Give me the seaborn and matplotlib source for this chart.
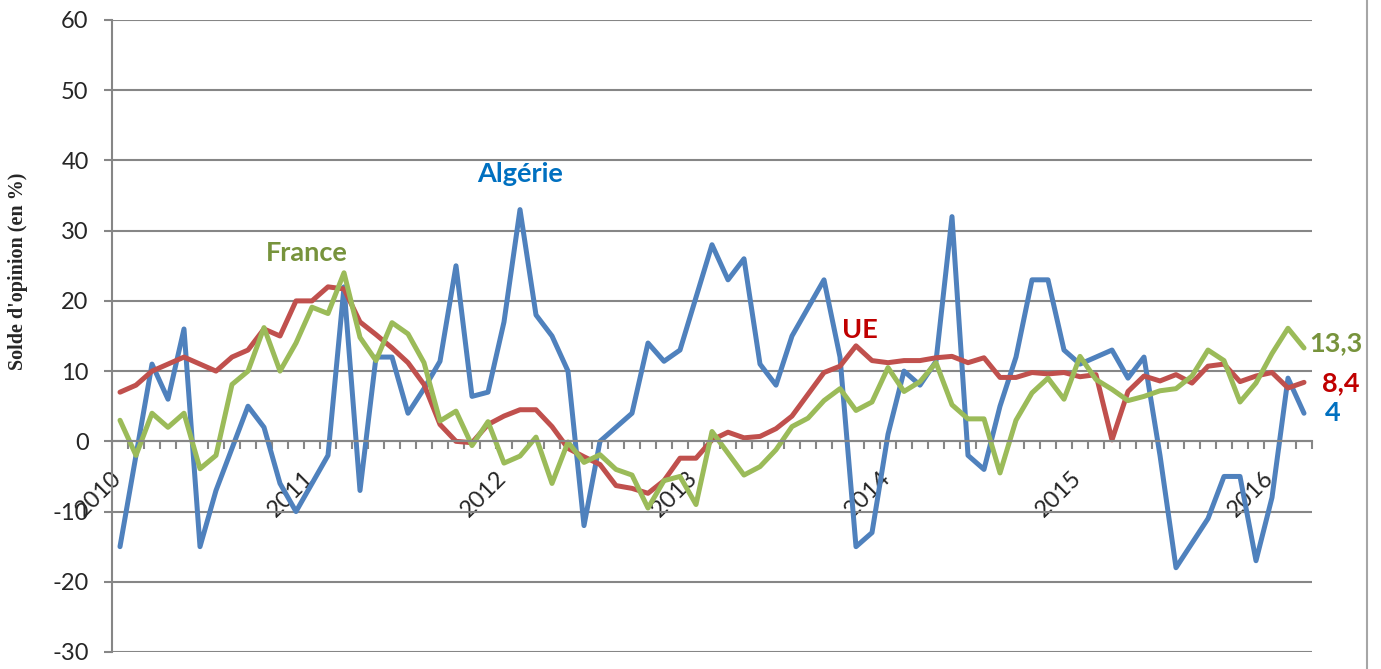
import numpy as np
import pandas as pd
import matplotlib
matplotlib.use("Agg")
import matplotlib.pyplot as plt
import matplotlib.transforms as mtransforms
from matplotlib.lines import Line2D
import seaborn as sns

# Monthly opinion balances, Jan 2010 .. Mar 2016 (75 months)
algerie = [-15, -2, 11, 6, 16, -15, -7, -1, 5, 2, -6, -10, -6, -2, 22,
           -7, 12, 12, 4, 7.5, 11.4, 25, 6.4, 7, 17, 33, 18, 15, 10, -12,
           0, 2, 4, 14, 11.4, 13, 20.5, 28, 23, 26, 11, 8, 15, 19, 23,
           12, -15, -13, 1, 10, 8, 11.4, 32, -2, -4, 5, 12, 23, 23,
           13, 11, 12, 13, 9, 12, -2, -18, -14.5, -11, -5, -5, -17, -8, 9, 4]
ue = [7, 8, 10, 11, 12, 11, 10, 12, 13, 16, 15, 20, 20, 22, 21.7,
      17, 15.2, 13.3, 11.2, 8.1, 2.4, 0, -0.2, 2.4, 3.6, 4.5, 4.5, 2.1, -1, -2.2,
      -3.3, -6.3, -6.7, -7.4, -5.6, -2.4, -2.4, 0.2, 1.3, 0.5, 0.7, 1.8, 3.6, 6.7, 9.8,
      10.7, 13.6, 11.5, 11.2, 11.5, 11.5, 11.9, 12.1, 11.2, 11.9, 9.1, 9.1, 9.8, 9.6,
      9.8, 9.2, 9.5, 0.2, 7.1, 9.3, 8.6, 9.5, 8.3, 10.7, 11, 8.5, 9.3, 9.8, 7.6, 8.4]
france = [3, -2, 4, 2, 4, -3.9, -2, 8.1, 10, 16.2, 10, 14, 19.1, 18.2, 24,
          14.8, 11.5, 16.9, 15.3, 11.2, 2.9, 4.3, -0.6, 2.8, -3.1, -2.1, 0.6, -6, -0.1, -3,
          -1.9, -4, -4.8, -9.5, -5.6, -5, -9, 1.4, -1.7, -4.8, -3.6, -1.2, 2.1, 3.3, 5.8,
          7.5, 4.4, 5.6, 10.5, 7.1, 8.5, 11.2, 5.2, 3.2, 3.2, -4.5, 3, 6.9, 9,
          6, 12.1, 8.8, 7.4, 5.8, 6.4, 7.2, 7.5, 9.3, 13, 11.5, 5.6, 8.3, 12.5, 16.1, 13.3]
years = ["2010", "2011", "2012", "2013", "2014", "2015", "2016"]

df = pd.DataFrame({"mois": np.arange(len(ue)), "Algérie": algerie, "UE": ue, "France": france})

sns.set_style("white")
plt.rcParams["font.family"] = ["Lato", "DejaVu Sans"]
plt.rcParams["axes.unicode_minus"] = False

fig = plt.figure(figsize=(13.81, 6.69), dpi=100)
ax = fig.add_axes([112 / 1381, 17 / 669, 1200 / 1381, 632 / 669])

grey = "#868686"
line_colors = {"Algérie": "#4F81BD", "UE": "#C0504D", "France": "#9BBB59"}
for name in ["Algérie", "UE", "France"]:
    sns.lineplot(data=df, x="mois", y=name, ax=ax, color=line_colors[name], linewidth=3.6,
                 solid_joinstyle="round", solid_capstyle="round")

ax.set_xlim(-0.5, len(ue) - 0.5)
ax.set_ylim(-30, 60)
ax.set_yticks(np.arange(-30, 61, 10))
ax.yaxis.grid(True, color=grey, lw=1.5)
ax.set_axisbelow(True)
ax.set_xlabel("")
ax.set_ylabel("")

for s in ["top", "right"]:
    ax.spines[s].set_visible(False)
ax.spines["left"].set_color(grey)
ax.spines["left"].set_linewidth(1.5)
ax.spines["bottom"].set_position(("data", 0))
ax.spines["bottom"].set_color(grey)
ax.spines["bottom"].set_linewidth(1.5)

ax.tick_params(axis="y", direction="out", length=5.8, width=1.5, color=grey,
               labelsize=17, pad=11, left=True)

# category boundaries as minor ticks, year labels at January
ax.set_xticks(np.arange(-0.5, len(ue), 1), minor=True)
ax.set_xticks(np.arange(0, len(ue), 12))
ax.set_xticklabels(years, rotation=45, ha="right", va="top")
ax.tick_params(axis="x", which="minor", direction="out", length=5.8, width=1.5,
               color=grey, bottom=True)
ax.tick_params(axis="x", which="major", length=0, labelsize=17, pad=18.5, bottom=True)
offset = mtransforms.ScaledTranslation(6 / 100, 0, fig.dpi_scale_trans)
for lab in ax.get_xticklabels():
    lab.set_transform(lab.get_transform() + offset)

fig.text(0.013, 0.595, "Solde d'opinion (en %)", rotation=90, ha="center", va="center",
         fontsize=14.5, fontweight="bold", family="Liberation Serif")

bold = dict(fontsize=19.5, fontweight="bold", ha="center", va="center")
ax.text(25, 38, "Algérie", color="#0070C0", **bold)
ax.text(11.7, 26.8, "France", color="#77933C", **bold)
ax.text(46.25, 15.8, "UE", color="#C00000", **bold)
ax.text(74.3, 14, "13,3", color="#77933C", clip_on=False, **{**bold, "ha": "left"})
ax.text(75.1, 8.3, "8,4", color="#C00000", clip_on=False, **{**bold, "ha": "left"})
ax.text(75.3, 4.1, "4", color="#0070C0", clip_on=False, **{**bold, "ha": "left"})

fig.add_artist(Line2D([1367 / 1381, 1367 / 1381], [0, 1], transform=fig.transFigure,
                      color="#A6A6A6", lw=1.5))

fig.savefig("out.png", dpi=100)
